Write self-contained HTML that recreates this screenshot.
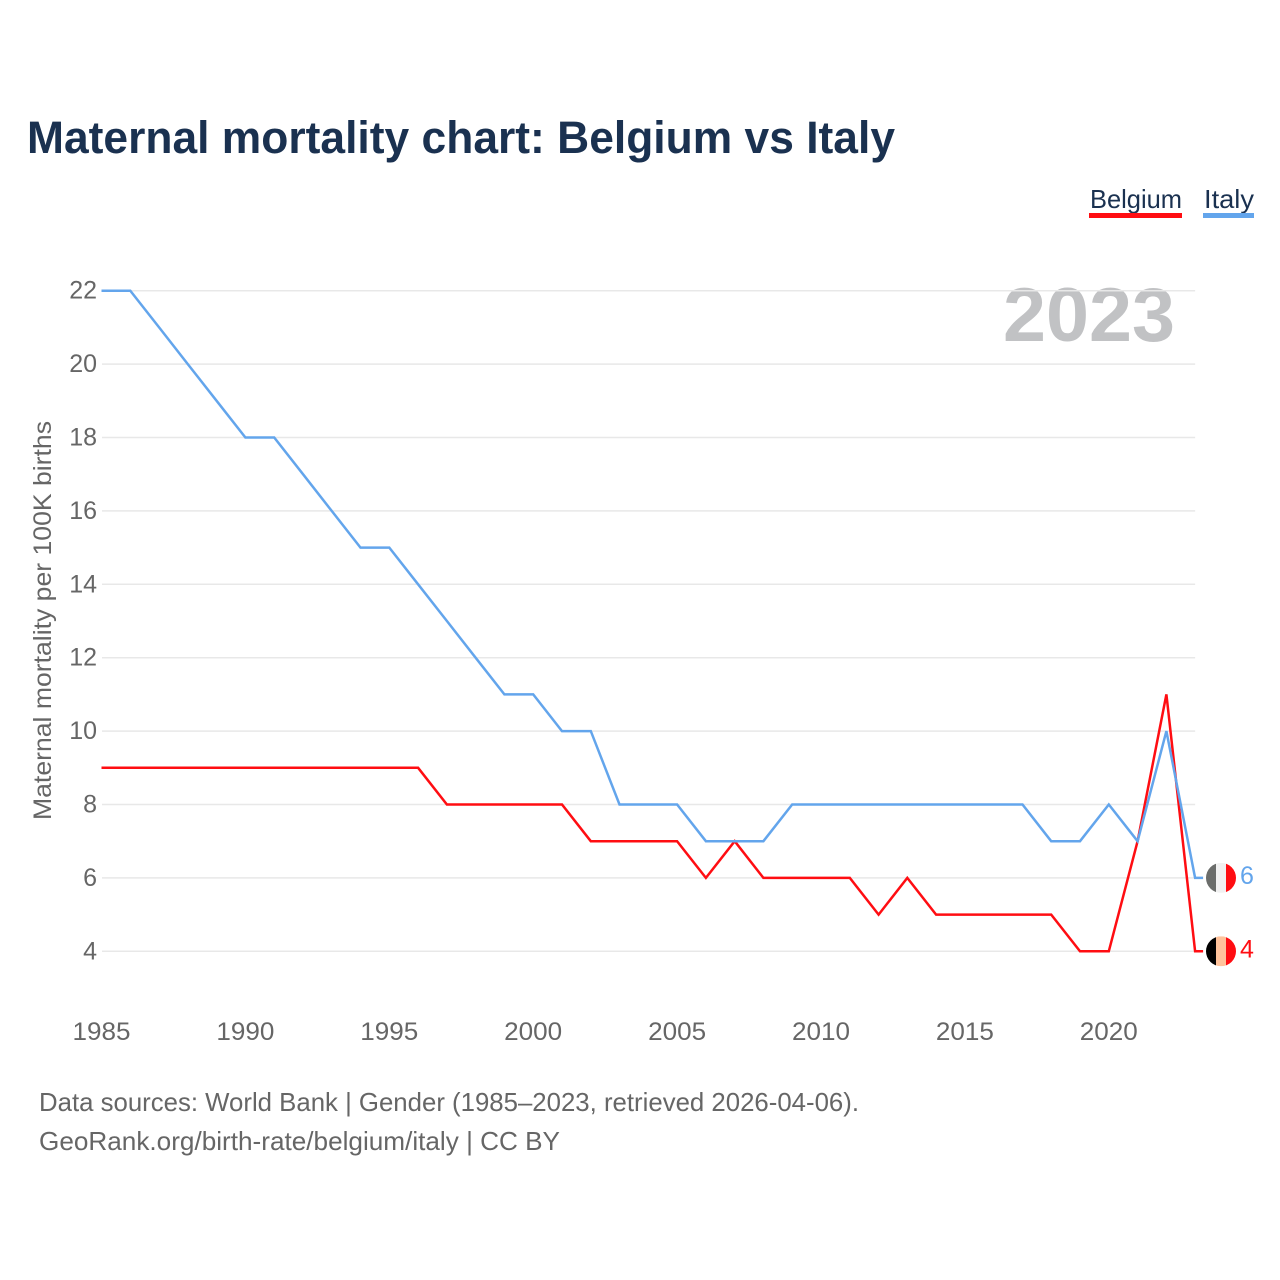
<!DOCTYPE html>
<html lang="en">
<head>
<meta charset="utf-8">
<title>Maternal mortality chart: Belgium vs Italy</title>
<style>
html,body{margin:0;padding:0;background:#fff;width:1280px;height:1280px;overflow:hidden}
svg{display:block}
text{font-family:"Liberation Sans",sans-serif}
</style>
</head>
<body>
<svg id="chart" xmlns="http://www.w3.org/2000/svg" width="1280" height="1280" viewBox="0 0 1280 1280">
  <text x="27" y="153" font-size="45" font-weight="700" fill="#1a3150" textLength="868" lengthAdjust="spacingAndGlyphs">Maternal mortality chart: Belgium vs Italy</text>

  <g>
    <g>
      <text x="1090" y="208" font-size="26" fill="#1a3150" textLength="92" lengthAdjust="spacingAndGlyphs">Belgium</text>
      <rect x="1089" y="213" width="93" height="5" fill="#ff0d12"/>
    </g>
    <g>
      <text x="1204" y="208" font-size="26" fill="#1a3150" textLength="50" lengthAdjust="spacingAndGlyphs">Italy</text>
      <rect x="1203" y="213" width="51" height="5" fill="#63a5ec"/>
    </g>
  </g>

  <text x="1175" y="341" font-size="76" font-weight="700" fill="#c1c2c4" text-anchor="end" textLength="172" lengthAdjust="spacingAndGlyphs">2023</text>

  <g id="grid"></g>
  <g id="y-ticks"></g>
  <g id="x-ticks"></g>
  <text transform="translate(51,820) rotate(-90)" font-size="25" fill="#666" textLength="399" lengthAdjust="spacingAndGlyphs">Maternal mortality per 100K births</text>

  <g id="series"></g>
  <g id="ends"></g>

  <text x="39" y="1111" font-size="26" fill="#666" textLength="820" lengthAdjust="spacingAndGlyphs">Data sources: World Bank | Gender (1985–2023, retrieved 2026-04-06).</text>
  <text x="39" y="1150" font-size="26" fill="#666" textLength="521" lengthAdjust="spacingAndGlyphs">GeoRank.org/birth-rate/belgium/italy | CC BY</text>
</svg>
<script>
const years = [1985,1986,1987,1988,1989,1990,1991,1992,1993,1994,1995,1996,1997,1998,1999,2000,2001,2002,2003,2004,2005,2006,2007,2008,2009,2010,2011,2012,2013,2014,2015,2016,2017,2018,2019,2020,2021,2022,2023];
const belgiumValues = [9,9,9,9,9,9,9,9,9,9,9,9,8,8,8,8,8,7,7,7,7,6,7,6,6,6,6,5,6,5,5,5,5,5,4,4,7,11,4];
const italyValues = [22,22,21,20,19,18,18,17,16,15,15,14,13,12,11,11,10,10,8,8,8,7,7,7,8,8,8,8,8,8,8,8,8,7,7,8,7,10,6];
const yTickLabels = [4,6,8,10,12,14,16,18,20,22];
const xTickLabels = [1985,1990,1995,2000,2005,2010,2015,2020];

const NS = 'http://www.w3.org/2000/svg';
const xScale = function (year) { return 101.5 + (year - 1985) * 28.78; };
const yScale = function (value) { return 951.3 - (value - 4) * 36.7; };
const plotRight = xScale(years[years.length - 1]);

function make(tag, attrs, parent) {
  const el = document.createElementNS(NS, tag);
  Object.keys(attrs).forEach(function (k) { el.setAttribute(k, attrs[k]); });
  parent.appendChild(el);
  return el;
}

const grid = document.getElementById('grid');
const yTicks = document.getElementById('y-ticks');
yTickLabels.forEach(function (v) {
  const line = make('line', {x1: 102, x2: plotRight, y1: yScale(v), y2: yScale(v), stroke: '#e8e8e8', 'stroke-width': 1.5}, grid);
  
  
  const t = make('text', {x: 97, y: yScale(v) + 8, 'font-size': 25, fill: '#666', 'text-anchor': 'end'}, yTicks);
  
  
  t.textContent = v;
});

const xTicks = document.getElementById('x-ticks');
xTickLabels.forEach(function (y) {
  const t = make('text', {x: xScale(y), y: 1040, 'font-size': 25, fill: '#666', 'text-anchor': 'middle', textLength: 58, lengthAdjust: 'spacingAndGlyphs'}, xTicks);
  
  
  t.textContent = y;
});

function linePoints(values) {
  const pts = values.map(function (v, i) { return xScale(years[i]).toFixed(1) + ',' + yScale(v).toFixed(1); });
  pts.push((plotRight + 8).toFixed(1) + ',' + yScale(values[values.length - 1]).toFixed(1));
  return pts.join(' ');
}

const series = document.getElementById('series');
const belgiumLine = make('polyline', {points: linePoints(belgiumValues), fill: 'none', stroke: '#ff0d12', 'stroke-width': 2.5, 'stroke-linejoin': 'miter'}, series);


const italyLine = make('polyline', {points: linePoints(italyValues), fill: 'none', stroke: '#63a5ec', 'stroke-width': 2.5, 'stroke-linejoin': 'miter'}, series);



const ends = document.getElementById('ends');
function flag(cy, colors, id) {
  const cx = 1221, r = 15;
  const defs = make('clipPath', {id: id}, ends);
  make('circle', {cx: cx, cy: cy, r: r}, defs);
  const g = make('g', {'clip-path': 'url(#' + id + ')'}, ends);
  colors.forEach(function (c, i) {
    make('rect', {x: cx - r + i * 10, y: cy - r, width: 10, height: 2 * r, fill: c}, g);
  });
  return g;
}
const lastBelgium = belgiumValues[belgiumValues.length - 1];
const lastItaly = italyValues[italyValues.length - 1];
const flagItaly = flag(yScale(lastItaly), ['#6b6d6b', '#f1f1f1', '#ff0d12'], 'clip-italy');


const flagBelgium = flag(yScale(lastBelgium), ['#000000', '#ffc39c', '#ff0d12'], 'clip-belgium');



const valueItaly = make('text', {x: 1240, y: yScale(lastItaly) + 6, 'font-size': 25, fill: '#63a5ec'}, ends);


valueItaly.textContent = lastItaly;
const valueBelgium = make('text', {x: 1240, y: yScale(lastBelgium) + 6, 'font-size': 25, fill: '#ff0d12'}, ends);


valueBelgium.textContent = lastBelgium;
</script>
</body>
</html>
